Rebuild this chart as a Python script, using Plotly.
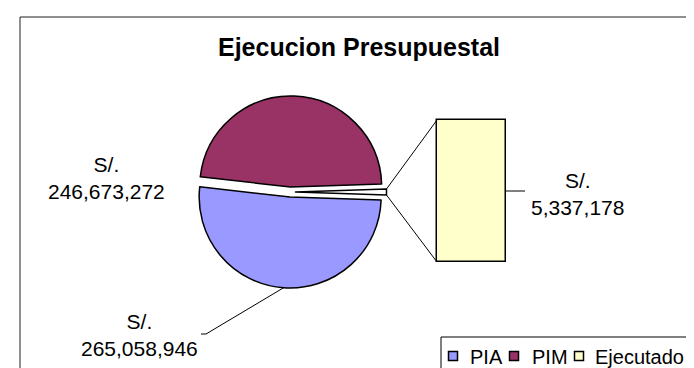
import math
import plotly.graph_objects as go

# data
categories = ["PIA", "PIM", "Ejecutado"]
values = [265058946, 246673272, 5337178]
colors = ["#9999FF", "#993366", "#FFFFCC"]
label_prefix = "S/."

W, H = 694, 368


def px(x):
    return x / W


def py(y):
    return 1 - y / H


def money(v):
    return label_prefix + "<br>" + f"{v:,}"


total = sum(values)
ejec_deg = 360.0 * values[2] / total
rotation = 90 + ejec_deg / 2

# pie placement (pixels)
cx, cy, r = 282.5, 184.0, 91.0
pull = 0.055
half = r * (1 + pull)

# bar placement (pixels)
bx0, bx1, by0, by1 = 429, 498, 112, 254
pad = 2

font = "Liberation Sans, Arial, sans-serif"

fig = go.Figure()

fig.add_trace(go.Pie(
    labels=categories,
    values=values,
    sort=False,
    direction="clockwise",
    rotation=rotation,
    pull=[pull, pull, pull],
    marker=dict(colors=[colors[0], colors[1], "#FFFFFF"],
                line=dict(color="black", width=1.5)),
    textinfo="none",
    hoverinfo="label+value",
    showlegend=False,
    domain=dict(x=[px(cx - half), px(cx + half)], y=[py(cy + half), py(cy - half)]),
))

fig.add_trace(go.Bar(
    x=[categories[2]],
    y=[values[2]],
    marker=dict(color=colors[2], line=dict(color="black", width=1.5)),
    showlegend=False,
    xaxis="x",
    yaxis="y",
))

bw = bx1 - bx0
bh = by1 - by0
fig.update_layout(
    xaxis=dict(domain=[px(bx0 - pad), px(bx1 + pad)], visible=False,
               range=[-0.5 - pad / bw, 0.5 + pad / bw], fixedrange=True),
    yaxis=dict(domain=[py(by1 + pad), py(by0 - pad)], visible=False,
               range=[-values[2] * pad / bh, values[2] * (1 + pad / bh)], fixedrange=True),
    bargap=0,
)

shapes = []
# chart frame and legend frame
shapes.append(dict(type="rect", xref="paper", yref="paper", x0=px(12), x1=px(688), y0=py(9), y1=py(380),
                   line=dict(color="#202020", width=1)))
shapes.append(dict(type="rect", xref="paper", yref="paper", x0=px(433), x1=px(688), y0=py(329), y1=py(380),
                   line=dict(color="black", width=1)))

# connector lines from the small slice to the bar
a0 = math.radians(90 - ejec_deg / 2)
a1 = math.radians(90 + ejec_deg / 2)
off = pull * r
for a, yb in [(a0, by0), (a1, by1)]:
    sx = cx + r * math.sin(a) + off
    sy = cy - r * math.cos(a)
    shapes.append(dict(type="line", xref="paper", yref="paper", x0=px(sx), y0=py(sy), x1=px(bx0), y1=py(yb),
                       line=dict(color="black", width=1)))

# leader line for PIA
pia_mid = math.radians(rotation + 360.0 * values[0] / total / 2)
lx = cx + (r + off) * math.sin(pia_mid)
ly = cy - (r + off) * math.cos(pia_mid)
shapes.append(dict(type="path", xref="paper", yref="paper",
                   path=f"M {px(lx)} {py(ly)} L {px(198)} {py(326)} L {px(193)} {py(326)}",
                   line=dict(color="black", width=1)))
# leader line for Ejecutado
bmid = (by0 + by1) / 2
shapes.append(dict(type="line", xref="paper", yref="paper", x0=px(bx1), y0=py(bmid), x1=px(517), y1=py(bmid),
                   line=dict(color="black", width=1)))

# legend (drawn by hand to match compact spacing)
leg_sq = [445, 506, 571]
leg_tx = [460, 522, 585]
leg_y = 348
for i, name in enumerate(categories):
    shapes.append(dict(type="rect", xref="paper", yref="paper",
                       x0=px(leg_sq[i] - 4.5), x1=px(leg_sq[i] + 4.5), y0=py(leg_y + 4.5), y1=py(leg_y - 4.5),
                       fillcolor=colors[i], line=dict(color="black", width=1.5)))

annotations = []
for i, name in enumerate(categories):
    annotations.append(dict(x=px(leg_tx[i]), y=py(leg_y + 1), xref="paper", yref="paper", text=name,
                            showarrow=False, xanchor="left", yanchor="middle",
                            font=dict(family=font, size=20, color="black")))

label_pos = [(131, 327), (98, 170), (569, 186)]
for v, (x, y) in zip(values, label_pos):
    annotations.append(dict(x=px(x), y=py(y), xref="paper", yref="paper", text=money(v),
                            showarrow=False, xanchor="center", yanchor="middle", align="center",
                            font=dict(family=font, size=21, color="black")))

annotations.append(dict(x=px(351), y=py(39), xref="paper", yref="paper",
                        text="<b>Ejecucion Presupuestal</b>", showarrow=False,
                        xanchor="center", yanchor="middle",
                        font=dict(family=font, size=25, color="black")))

fig.update_layout(
    width=W, height=H,
    margin=dict(l=0, r=0, t=0, b=0),
    paper_bgcolor="white",
    plot_bgcolor="white",
    shapes=shapes,
    annotations=annotations,
)

fig.write_html("out.html")
